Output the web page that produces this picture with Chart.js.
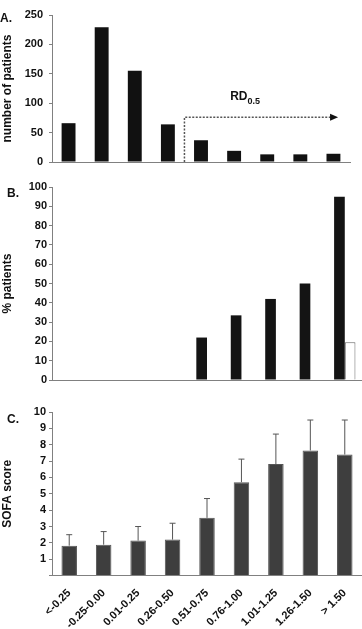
<!DOCTYPE html>
<html>
<head>
<meta charset="utf-8">
<script src="https://cdn.jsdelivr.net/npm/chart.js@4/dist/chart.umd.min.js"></script>
<style>
  body { margin: 0; background: #fff; }
  .panel { position: absolute; left: 0; width: 362px; }
  .tag { position: absolute; font: bold 12px 'Liberation Sans', Arial, sans-serif; color: #111; }
</style>
</head>
<body>
<div class="panel" style="top:0;height:175px"><canvas id="chartA"></canvas></div>
<div class="panel" style="top:175px;height:215px"><canvas id="chartB"></canvas></div>
<div class="panel" style="top:390px;height:239px"><canvas id="chartC"></canvas></div>
<div class="tag" style="left:0;top:11px">A.</div>
<div class="tag" style="left:7px;top:186px">B.</div>
<div class="tag" style="left:7px;top:412px">C.</div>
<script>
const categories = ['<-0.25', '-0.25-0.00', '0.01-0.25', '0.26-0.50', '0.51-0.75', '0.76-1.00', '1.01-1.25', '1.26-1.50', '> 1.50'];

// A. number of patients
const patientCounts = [66, 229, 155, 64, 37, 19, 13, 13, 14];

// B. % patients (black and white bars)
const pctBlack = [null, null, null, null, 22, 33.5, 42, 50, 95];
const pctWhite = [null, null, null, null, null, null, null, null, 19.5];

// C. SOFA score, mean and upper error
const sofaMean = [1.83, 1.89, 2.14, 2.2, 3.53, 5.71, 6.82, 7.65, 7.4];
const sofaUpper = [2.5, 2.69, 3.0, 3.2, 4.71, 7.12, 8.65, 9.51, 9.51];

// RD0.5 arrow in panel A (category index / value)
const rdFrom = 3.5;
const rdTo = 8.14;
const rdLevel = 76;
const rdLabelIndex = 4.88;
const rdLabelValue = 105;

const fontFamily = "'Liberation Sans', Arial, sans-serif";
const tickFont = { family: fontFamily, size: 11, weight: 'bold' };
const titleFont = { family: fontFamily, size: 12, weight: 'bold' };
const axisGray = '#808080';

function yAxis(min, max, step, title, pad, hideZero) {
  return {
    min: min,
    max: max,
    ticks: {
      stepSize: step,
      font: tickFont,
      color: '#111',
      padding: pad,
      callback: (v) => (hideZero && v === 0 ? '' : v),
    },
    grid: { drawOnChartArea: false, drawTicks: true, tickLength: 3, color: axisGray },
    border: { display: true, color: axisGray, width: 1 },
    title: { display: true, text: title, font: titleFont, color: '#111', padding: 0 },
    afterFit: (s) => { s.width = 52; },
  };
}

const plainX = {
  grid: { display: false },
  border: { display: true, color: axisGray, width: 1 },
  ticks: { display: false },
  afterFit: (s) => { s.height = 0; },
};

const baseOptions = {
  responsive: true,
  maintainAspectRatio: false,
  animation: false,
  events: [],
  plugins: { legend: { display: false }, tooltip: { enabled: false } },
};

const rdArrow = {
  id: 'rdArrow',
  afterDatasetsDraw(chart) {
    const { ctx, scales: { x, y } } = chart;
    const x0 = x.getPixelForValue(rdFrom);
    const x1 = x.getPixelForValue(rdTo);
    const yL = y.getPixelForValue(rdLevel);
    const yB = y.getPixelForValue(0);
    ctx.save();
    ctx.strokeStyle = '#555';
    ctx.lineWidth = 1.5;
    ctx.setLineDash([2, 1.5]);
    ctx.beginPath();
    ctx.moveTo(x0, yB);
    ctx.lineTo(x0, yL);
    ctx.lineTo(x1 - 7, yL);
    ctx.stroke();
    ctx.setLineDash([]);
    ctx.fillStyle = '#111';
    ctx.beginPath();
    ctx.moveTo(x1, yL);
    ctx.lineTo(x1 - 8, yL - 3.5);
    ctx.lineTo(x1 - 8, yL + 3.5);
    ctx.closePath();
    ctx.fill();
    const lx = x.getPixelForValue(rdLabelIndex);
    const ly = y.getPixelForValue(rdLabelValue);
    ctx.fillStyle = '#111';
    ctx.textBaseline = 'alphabetic';
    ctx.font = 'bold 12px ' + fontFamily;
    ctx.fillText('RD', lx, ly);
    const w = ctx.measureText('RD').width;
    ctx.font = 'bold 9px ' + fontFamily;
    ctx.fillText('0.5', lx + w, ly + 4);
    ctx.restore();
  },
};

const errorBars = {
  id: 'errorBars',
  afterDatasetsDraw(chart) {
    const { ctx, scales: { y } } = chart;
    const meta = chart.getDatasetMeta(0);
    ctx.save();
    ctx.strokeStyle = '#555';
    ctx.lineWidth = 1;
    meta.data.forEach((bar, i) => {
      const yTop = y.getPixelForValue(sofaUpper[i]);
      ctx.beginPath();
      ctx.moveTo(bar.x, bar.y);
      ctx.lineTo(bar.x, yTop);
      ctx.moveTo(bar.x - 3, yTop);
      ctx.lineTo(bar.x + 3, yTop);
      ctx.stroke();
    });
    ctx.restore();
  },
};

new Chart(document.getElementById('chartA'), {
  type: 'bar',
  data: {
    labels: categories,
    datasets: [{
      data: patientCounts,
      backgroundColor: '#111',
      borderWidth: 0,
      barPercentage: 0.42,
      categoryPercentage: 1,
    }],
  },
  options: {
    ...baseOptions,
    layout: { padding: { top: 15, right: 12, bottom: 13, left: 0 } },
    scales: {
      x: plainX,
      y: yAxis(0, 250, 50, 'number of patients', 6, false),
    },
  },
  plugins: [rdArrow],
});

new Chart(document.getElementById('chartB'), {
  type: 'bar',
  data: {
    labels: categories,
    datasets: [
      { data: pctBlack, backgroundColor: '#141414', borderWidth: 0, barPercentage: 1, categoryPercentage: 0.62 },
      { data: pctWhite, backgroundColor: '#fff', borderColor: '#666', borderWidth: 1, barPercentage: 1, categoryPercentage: 0.62 },
    ],
  },
  options: {
    ...baseOptions,
    layout: { padding: { top: 12, right: 0, bottom: 10, left: 0 } },
    scales: {
      x: plainX,
      y: yAxis(0, 100, 10, '% patients', 2, false),
    },
  },
});

new Chart(document.getElementById('chartC'), {
  type: 'bar',
  data: {
    labels: categories,
    datasets: [{
      data: sofaMean,
      backgroundColor: '#3e3e3e',
      borderColor: '#555',
      borderWidth: 1,
      barPercentage: 0.45,
      categoryPercentage: 1,
    }],
  },
  options: {
    ...baseOptions,
    layout: { padding: { top: 22, right: 0, bottom: 0, left: 0 } },
    scales: {
      x: {
        grid: { display: false },
        border: { display: true, color: axisGray, width: 1 },
        ticks: { font: tickFont, color: '#111', minRotation: 45, maxRotation: 45, padding: 3, autoSkip: false },
        afterFit: (s) => { s.height = 53.4; },
      },
      y: yAxis(0, 10, 1, 'SOFA score', 3, true),
    },
  },
  plugins: [errorBars],
});
</script>
</body>
</html>
